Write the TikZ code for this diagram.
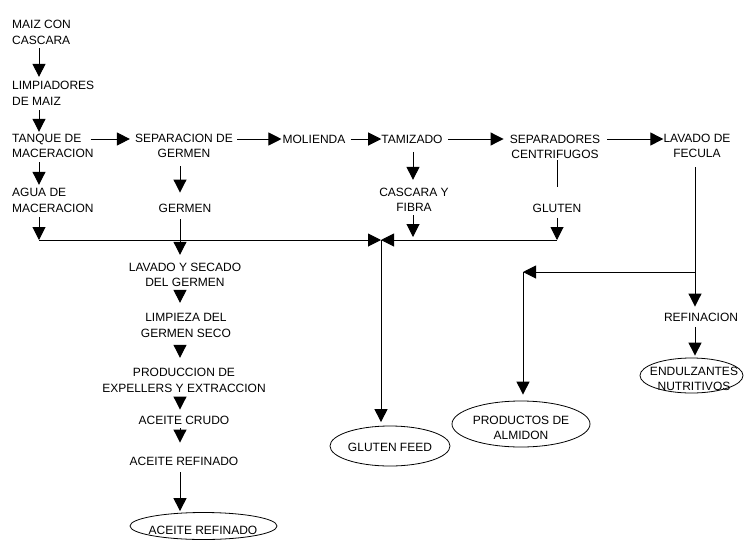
\documentclass[tikz,border=0pt]{standalone}
\usepackage{fontspec}
\setmainfont{Liberation Sans}
\usetikzlibrary{arrows.meta,shapes.geometric}
\begin{document}
\begin{tikzpicture}[x=1pt,y=-1pt,
  lbl/.style={font=\fontsize{12}{15.5}\selectfont, inner sep=0pt, align=center},
  lbll/.style={lbl, align=left, anchor=west},
  prod/.style={ellipse, draw, line width=0.8pt, inner sep=0pt},
  wire/.style={line width=1pt},
  arr/.style={wire, -{Triangle[length=13pt,width=13pt]}}]
\useasboundingbox (0,0) rectangle (745,539);

% process steps
\node[lbll] (maiz) at (12,32.5) {MAIZ CON\\CASCARA};
\node[lbll] (limp) at (12,93.5) {LIMPIADORES\\DE MAIZ};
\node[lbll] (tanque) at (12,146) {TANQUE DE\\MACERACION};
\node[lbll] (agua) at (12,200.5) {AGUA DE\\MACERACION};
\node[lbl] (sepg) at (184,146) {SEPARACION DE\\GERMEN};
\node[lbl] (germen) at (185,208) {GERMEN};
\node[lbl] (molienda) at (314,139) {MOLIENDA};
\node[lbl] (tamizado) at (412,139) {TAMIZADO};
\node[lbl] (sepc) at (555,147) {SEPARADORES\\CENTRIFUGOS};
\node[lbl] (lavado) at (697,146) {LAVADO DE\\FECULA};
\node[lbl] (cascara) at (414,200) {CASCARA Y\\FIBRA};
\node[lbl] (gluten) at (557,208) {GLUTEN};
\node[lbl] (lavsec) at (185,275) {LAVADO Y SECADO\\DEL GERMEN};
\node[lbl] (limpieza) at (186,325.5) {LIMPIEZA DEL\\GERMEN SECO};
\node[lbl] (produccion) at (184,380.5) {PRODUCCION DE\\EXPELLERS Y EXTRACCION};
\node[lbl] (crudo) at (184,420) {ACEITE CRUDO};
\node[lbl] (arefinado) at (184,461) {ACEITE REFINADO};
\node[lbl] (refinacion) at (701,317) {REFINACION};

% end products
\node[prod, minimum width=147pt, minimum height=27pt] (eaceite) at (203.5,526) {};
\node[lbl] at (203,530) {ACEITE REFINADO};
\node[prod, minimum width=120pt, minimum height=40pt] (egluten) at (390,446) {};
\node[lbl] at (390,447) {GLUTEN FEED};
\node[prod, minimum width=138pt, minimum height=46pt] (ealmidon) at (521,424) {};
\node[lbl] at (521,428) {PRODUCTOS DE\\ALMIDON};
\node[prod, minimum width=103pt, minimum height=35pt] (eendulz) at (691.5,375.5) {};
\node[lbl] at (694,379) {ENDULZANTES\\NUTRITIVOS};

% routing points
\coordinate (colA) at (39,0);
\coordinate (colB) at (180,0);
\coordinate (colC) at (413,0);
\coordinate (colG) at (557,0);
\coordinate (colF) at (695,0);
\coordinate (row) at (0,139);
\coordinate (bus) at (0,240);
\coordinate (merge) at (381,240);
\coordinate (split) at (695,272);
\coordinate (starch) at (523,272);

% left column
\draw[arr, shorten <=3.5pt, shorten >=4.5pt] (maiz.south -| colA) -- (limp.north -| colA);
\draw[arr, shorten <=4.5pt, shorten >=2pt] (limp.south -| colA) -- (tanque.north -| colA);
\draw[arr, shorten <=4pt, shorten >=3.5pt] (tanque.south -| colA) -- (agua.north -| colA);
\draw[arr, shorten <=4.5pt] (agua.south -| colA) -- (colA |- bus);

% main row
\draw[arr, shorten <=-3pt, shorten >=5pt] (tanque.east |- row) -- (sepg.west |- row);
\draw[arr, shorten <=4pt, shorten >=1pt] (sepg.east |- row) -- (molienda.west |- row);
\draw[arr, shorten <=5pt, shorten >=0pt] (molienda.east |- row) -- (tamizado.west |- row);
\draw[arr, shorten <=5pt, shorten >=6pt] (tamizado.east |- row) -- (sepc.west |- row);
\draw[arr, shorten <=7pt, shorten >=0pt] (sepc.east |- row) -- (lavado.west |- row);

% germ branch
\draw[arr, shorten <=8pt, shorten >=11pt] (sepg.south -| colB) -- (germen.north -| colB);
\draw[arr, shorten <=7pt, shorten >=8pt] (germen.south -| colB) -- (lavsec.north -| colB);
\draw[arr, shorten <=3pt, shorten >=10.5pt] (lavsec.south -| colB) -- (limpieza.north -| colB);
\draw[arr, shorten <=7.5pt, shorten >=10.5pt] (limpieza.south -| colB) -- (produccion.north -| colB);
\draw[arr, shorten <=4.5pt, shorten >=6pt] (produccion.south -| colB) -- (crudo.north -| colB);
\draw[arr, shorten <=4pt, shorten >=14pt] (crudo.south -| colB) -- (arefinado.north -| colB);
\draw[arr, shorten <=7pt, shorten >=1pt] (arefinado.south -| colB) -- (eaceite.north -| colB);

% fibre, gluten and feed collector
\draw[arr, shorten <=8.5pt, shorten >=8pt] (tamizado.south -| colC) -- (cascara.north -| colC);
\draw[arr, shorten <=3pt, shorten >=3pt] (cascara.south -| colC) -- (colC |- bus);
\draw[wire, shorten <=1pt, shorten >=16.5pt] (sepc.south -| colG) -- (gluten.north -| colG);
\draw[arr, shorten <=5.5pt] (gluten.south -| colG) -- (colG |- bus);
\draw[arr] (colA |- bus) -- (merge);
\draw[arr] (colG |- bus) -- (merge);
\draw[arr, shorten >=3.5pt] (merge) -- (egluten.north -| merge);

% starch branch
\draw[wire, shorten <=9pt] (lavado.south -| colF) -- (split);
\draw[arr] (split) -- (starch);
\draw[arr, shorten >=6pt] (starch) -- (ealmidon.north -| starch);
\draw[arr, shorten >=6pt] (split) -- (refinacion.north -| colF);
\draw[arr, shorten <=5.5pt, shorten >=2pt] (refinacion.south -| colF) -- (eendulz.north -| colF);
\end{tikzpicture}
\end{document}
